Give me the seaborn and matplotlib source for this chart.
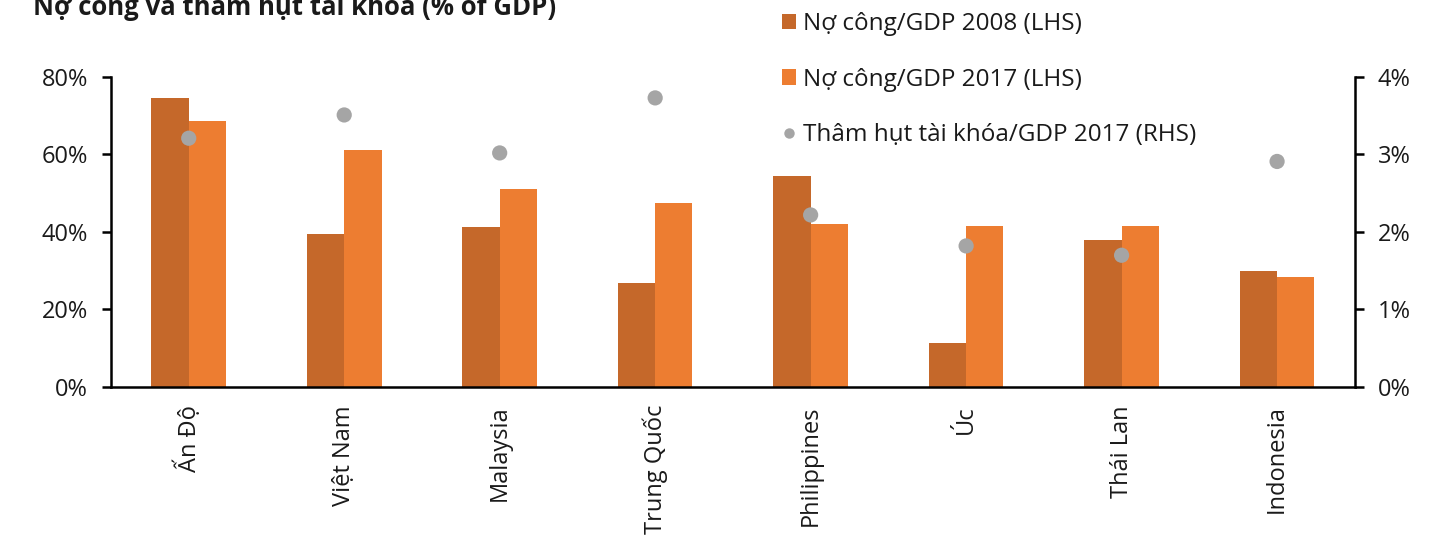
import numpy as np
import pandas as pd
import matplotlib
matplotlib.use("Agg")
import matplotlib.pyplot as plt
import seaborn as sns
from matplotlib.patches import Patch
from matplotlib.lines import Line2D
from matplotlib.ticker import FuncFormatter, MultipleLocator

# Data
countries = ["Ấn Độ", "Việt Nam", "Malaysia", "Trung Quốc", "Philippines", "Úc", "Thái Lan", "Indonesia"]
debt_2008 = [74.5, 39.4, 41.2, 26.8, 54.5, 11.4, 37.9, 30.0]
debt_2017 = [68.7, 61.2, 51.0, 47.5, 42.1, 41.5, 41.5, 28.3]
deficit_2017 = [3.21, 3.51, 3.02, 3.73, 2.22, 1.82, 1.70, 2.91]

series_names = ["Nợ công/GDP 2008 (LHS)", "Nợ công/GDP 2017 (LHS)"]
deficit_name = "Thâm hụt tài khóa/GDP 2017 (RHS)"
title = "Nợ công và thâm hụt tài khóa (% of GDP)"

c2008 = "#C5682A"
c2017 = "#ED7D31"
cdot = "#A5A5A5"
txt = "#1a1a1a"

sns.set_theme(style="white")
plt.rcParams["font.family"] = ["Open Sans", "DejaVu Sans"]

df = pd.DataFrame({
    "country": countries * 2,
    "value": debt_2008 + debt_2017,
    "series": [series_names[0]] * len(countries) + [series_names[1]] * len(countries),
})

fig = plt.figure(figsize=(14.49, 5.44), dpi=100)
ax = fig.add_axes([0.0766, 0.2886, 0.935 - 0.0766, 0.8585 - 0.2886])

sns.barplot(data=df, x="country", y="value", hue="series", order=countries,
            hue_order=series_names, palette=[c2008, c2017], width=0.48, gap=0,
            saturation=1, legend=False, ax=ax, errorbar=None, linewidth=0)

ax2 = ax.twinx()
sns.scatterplot(x=np.arange(len(countries)), y=deficit_2017, ax=ax2, color=cdot,
                s=120, edgecolor="none", legend=False, zorder=5)

ax.set_xlim(-0.5, len(countries) - 0.5)
ax.set_ylim(0, 80)
ax2.set_ylim(0, 4)
ax.yaxis.set_major_locator(MultipleLocator(20))
ax2.yaxis.set_major_locator(MultipleLocator(1))
ax.yaxis.set_major_formatter(FuncFormatter(lambda v, p: f"{v:.0f}%"))
ax2.yaxis.set_major_formatter(FuncFormatter(lambda v, p: f"{v:.0f}%"))

ax.set_xticks(range(len(countries)))
ax.set_xticklabels(countries, rotation=90, fontsize=17, color=txt)
ax.set_xlabel("")
ax.set_ylabel("")
ax2.set_ylabel("")

for a in (ax, ax2):
    for s in a.spines.values():
        s.set_visible(False)
    a.grid(False)
ax.spines["left"].set_visible(True)
ax.spines["bottom"].set_visible(True)
ax2.spines["right"].set_visible(True)
for s in (ax.spines["left"], ax.spines["bottom"], ax2.spines["right"]):
    s.set_color("black")
    s.set_linewidth(1.8)

ax.tick_params(axis="y", which="major", direction="out", length=6.5, width=1.8,
               color="black", labelsize=17, labelcolor=txt, pad=10, left=True)
ax.tick_params(axis="x", length=0, pad=13)
ax2.tick_params(axis="y", which="major", direction="out", length=6.5, width=1.8,
                color="black", labelsize=17, labelcolor=txt, pad=10, right=True)

fig.text(0.023, 0.972, title, fontsize=18.5, fontweight="bold", color=txt,
         va="baseline", ha="left")

handles = [
    Patch(facecolor=c2008, edgecolor="none"),
    Patch(facecolor=c2017, edgecolor="none"),
    Line2D([0], [0], marker="o", linestyle="none", markerfacecolor=cdot,
           markeredgecolor="none", markersize=7.5),
]
fig.legend(handles, series_names + [deficit_name], loc="upper left",
           bbox_to_anchor=(0.531, 1.0), frameon=False, fontsize=17.5,
           labelspacing=1.3, handlelength=0.6, handleheight=0.6,
           handletextpad=0.3, borderpad=0, labelcolor=txt)

fig.savefig("out.png", dpi=100, facecolor="white")
